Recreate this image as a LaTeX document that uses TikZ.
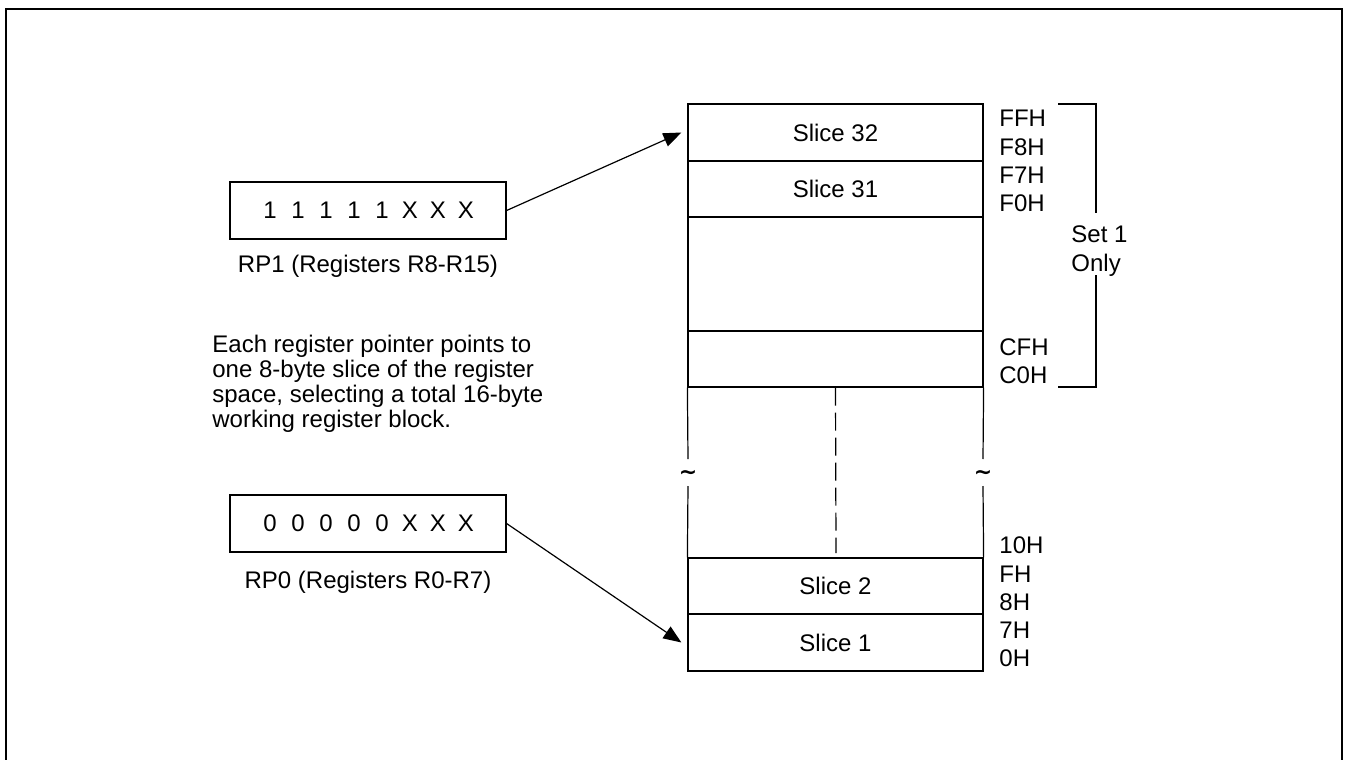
\documentclass[tikz,border=0pt]{standalone}
\usepackage{fontspec}
\setmainfont{Liberation Sans}
\newfontfamily\tldfont{DejaVu Sans}
\usetikzlibrary{arrows.meta}
\newcommand\bx[1]{\makebox[14pt]{#1}}
\newcommand\tld{\char"007E\relax}
\begin{document}
\begin{tikzpicture}[x=0.5pt,y=-0.5pt,
  every node/.style={font=\fontsize{12}{14}\selectfont},
  thin line/.style={line width=0.6pt},
  slicebox/.style={draw, thin line, minimum width=147.5pt, inner sep=0pt},
  regbox/.style={draw, thin line, minimum width=138pt, minimum height=28.5pt, inner sep=0pt},
  addr/.style={anchor=west, inner sep=0pt},
  tildemark/.style={inner sep=0pt, font=\tldfont\bfseries\fontsize{11}{12}\selectfont},
  ptr/.style={thin line, -{Triangle[length=9pt,width=7pt]}},
  gapdash/.style={thin line, dash pattern=on 9pt off 3.5pt},
  frameline/.style={line width=1.15pt, line join=miter}
]
\useasboundingbox (0,0) rectangle (1345,760);
% outer frame
\coordinate (fa) at (6,775);
\coordinate (fb) at (6,9);
\coordinate (fc) at (1342,9);
\coordinate (fd) at (1342,775);
\draw[frameline] (fa) -- (fb) -- (fc) -- (fd);

% memory column
\node[slicebox, minimum height=28.5pt] (s32) at (835.5,132.5) {Slice 32};
\node[slicebox, minimum height=28pt] (s31) at (835.5,189) {Slice 31};
\node[slicebox, minimum height=57pt] (sb) at (835.5,274) {};
\node[slicebox, minimum height=28pt] (sc) at (835.5,359) {};
\node[slicebox, minimum height=28pt] (s2) at (835.5,586) {Slice 2};
\node[slicebox, minimum height=28.5pt] (s1) at (835.5,642.5) {Slice 1};

% broken side lines with tildes
\node[tildemark] (tl) at (688,475) {\tld};
\node[tildemark] (tr) at (983,475) {\tld};
\coordinate (l1) at (688,459);
\coordinate (l2) at (688,486);
\coordinate (r1) at (983,459);
\coordinate (r2) at (983,486);
\draw[thin line] (sc.south west) -- (l1);
\draw[thin line] (l2) -- (s2.north west);
\draw[thin line] (sc.south east) -- (r1);
\draw[thin line] (r2) -- (s2.north east);
\coordinate (dend) at (836,553);
\draw[gapdash] (sc.south) -- (dend);

% address labels
\node[addr] (aFF) at (999,118) {FFH};
\node[addr] (aF8) at (999,147) {F8H};
\node[addr] (aF7) at (999,175) {F7H};
\node[addr] (aF0) at (999,203) {F0H};
\node[addr] (aCF) at (999,347) {CFH};
\node[addr] (aC0) at (999,375) {C0H};
\node[addr] (a10) at (999,545) {10H};
\node[addr] (a0F) at (999,574) {FH};
\node[addr] (a08) at (999,602) {8H};
\node[addr] (a07) at (999,630) {7H};
\node[addr] (a00) at (999,658) {0H};

% Set 1 Only bracket
\node[anchor=north west, inner sep=0pt, align=left, font=\fontsize{12}{14.5}\selectfont] (set) at (1071,225) {Set 1\\Only};
\coordinate (bt) at (1058,104);
\coordinate (bb) at (1058,387);
\coordinate (g1) at (1096,213);
\coordinate (g2) at (1096,275);
\draw[thin line] (bt) -| (g1);
\draw[thin line] (bb) -| (g2);

% register pointers
\node[regbox] (rp1) at (368,210.5) {\bx{1}\bx{1}\bx{1}\bx{1}\bx{1}\bx{X}\bx{X}\bx{X}};
\node (rp1l) at (368,266) {RP1 (Registers R8-R15)};
\node[regbox] (rp0) at (368,523.5) {\bx{0}\bx{0}\bx{0}\bx{0}\bx{0}\bx{X}\bx{X}\bx{X}};
\node (rp0l) at (368,582) {RP0 (Registers R0-R7)};

\node[anchor=north west, inner sep=0pt, align=left, font=\fontsize{12}{12.5}\selectfont] (note) at (212,335)
  {Each register pointer points to\\one 8-byte slice of the register\\space, selecting a total 16-byte\\working register block.};

\draw[ptr] (rp1.east) -- ([xshift=-3pt]s32.west);
\draw[ptr] (rp0.east) -- ([xshift=-3pt]s1.west);
\end{tikzpicture}
\end{document}
